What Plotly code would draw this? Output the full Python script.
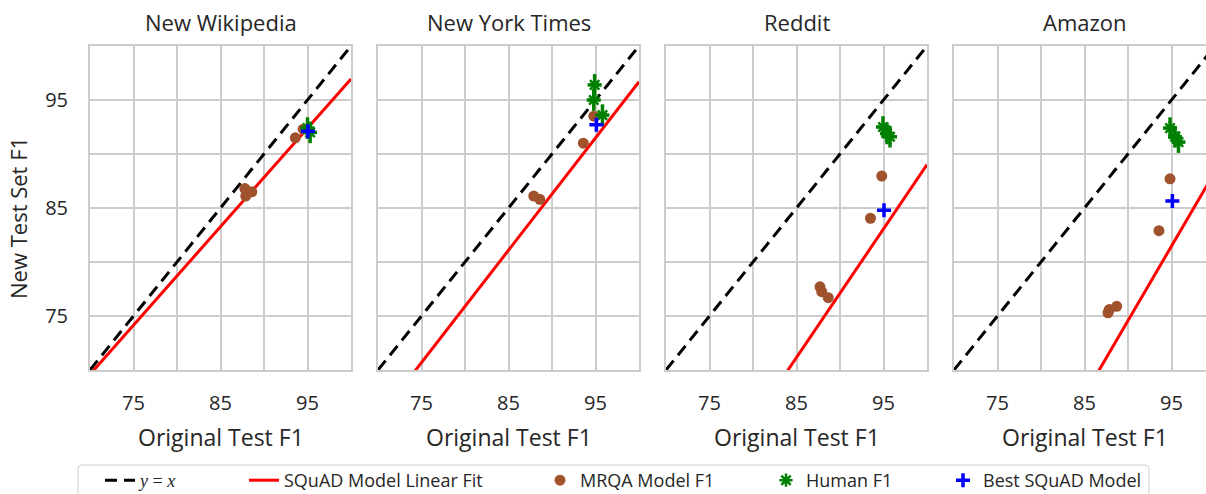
import plotly.graph_objects as go

# ---------------- data ----------------
datasets = ["New Wikipedia", "New York Times", "Reddit", "Amazon"]
tick_vals = [75, 85, 95]
tick_text = ["75", "85", "95"]

fit_slope = [0.912, 1.04, 1.19, 1.38]
fit_intercept = [5.75, -7.31, -29.99, -49.63]

mrqa_x = [
    [87.8, 87.9, 88.6, 93.6, 94.5],
    [87.9, 88.6, 93.6, 94.8],
    [87.7, 87.9, 88.65, 93.5, 94.8],
    [87.7, 87.85, 88.7, 93.56, 94.83],
]
mrqa_y = [
    [86.8, 86.1, 86.5, 91.5, 92.3],
    [86.1, 85.8, 91.0, 93.5],
    [77.7, 77.25, 76.7, 84.05, 87.96],
    [75.3, 75.6, 75.9, 82.9, 87.7],
]
mrqa_err_y = 0.45
mrqa_err_x = 0.25

human_x = [
    [95.0, 95.3],
    [94.9, 94.8, 95.8],
    [94.94, 95.4, 95.75],
    [94.83, 95.4, 95.8],
]
human_y = [
    [92.4, 92.0],
    [96.4, 95.0, 93.6],
    [92.5, 91.9, 91.6],
    [92.4, 91.6, 91.1],
]
human_err_y = 1.0
human_err_x = 0.8

best_x = [95.05, 95.1, 95.06, 95.1]
best_y = [92.1, 92.7, 84.8, 85.65]

line_x = [70, 100]

legend_names = ["<span style='font-family:Liberation Serif'><i>y</i> = <i>x</i></span>",
                "SQuAD Model Linear Fit", "MRQA Model F1", "Human F1", "Best SQuAD Model"]

# ---------------- layout geometry ----------------
W, H = 1206, 494
top, bottom = 46, 370
ph = bottom - top
left_px = [90, 378, 666, 954]
px_per_unit = 8.7
full_w = 30 * px_per_unit

FONT = "Open Sans"
GRID = "#cccccc"
TXT = "#262626"


def py(p):
    return (bottom - p) / ph


fig = go.Figure()

for i, name in enumerate(datasets):
    xa = "x" if i == 0 else f"x{i+1}"
    ya = "y" if i == 0 else f"y{i+1}"
    first = i == 0
    fig.add_trace(go.Scatter(x=line_x, y=line_x, mode="lines",
                             line=dict(color="black", width=3, dash="12px,7px"),
                             name=legend_names[0], legend="legend",
                             showlegend=first, xaxis=xa, yaxis=ya, hoverinfo="skip"))
    fy = [fit_slope[i] * v + fit_intercept[i] for v in line_x]
    fig.add_trace(go.Scatter(x=line_x, y=fy, mode="lines",
                             line=dict(color="red", width=3),
                             name=legend_names[1], legend="legend2",
                             showlegend=first, xaxis=xa, yaxis=ya))
    fig.add_trace(go.Scatter(x=mrqa_x[i], y=mrqa_y[i], mode="markers",
                             marker=dict(color="#a0522d", size=11, symbol="circle"),
                             error_y=dict(type="constant", value=mrqa_err_y, color="#a0522d", thickness=2, width=0),
                             error_x=dict(type="constant", value=mrqa_err_x, color="#a0522d", thickness=2, width=0),
                             name=legend_names[2], legend="legend3",
                             showlegend=first, xaxis=xa, yaxis=ya))
    fig.add_trace(go.Scatter(x=human_x[i], y=human_y[i], mode="markers",
                             marker=dict(color="green", size=11, symbol="asterisk-open",
                                         line=dict(color="green", width=2.5)),
                             error_y=dict(type="constant", value=human_err_y, color="green", thickness=3.5, width=0),
                             error_x=dict(type="constant", value=human_err_x, color="green", thickness=3.5, width=0),
                             name=legend_names[3], legend="legend4",
                             showlegend=first, xaxis=xa, yaxis=ya))
    fig.add_trace(go.Scatter(x=[best_x[i]], y=[best_y[i]], mode="markers",
                             marker=dict(color="blue", size=10, symbol="cross-thin-open",
                                         line=dict(color="blue", width=3.5)),
                             name=legend_names[4], legend="legend5",
                             showlegend=first, xaxis=xa, yaxis=ya))

layout = dict(
    width=W, height=H,
    margin=dict(l=0, r=0, t=top, b=H - bottom, autoexpand=False),
    plot_bgcolor="white", paper_bgcolor="white",
    font=dict(family=FONT, size=18, color=TXT),
    showlegend=True,
)

# separate legends, one per entry, positioned to match the reference row
legend_text_x = [140, 284, 580, 806, 983]
for k, tx in enumerate(legend_text_x):
    key = "legend" if k == 0 else f"legend{k+1}"
    layout[key] = dict(orientation="h", x=(tx - 40) / W, xanchor="left",
                       y=py(462), yanchor="top", bgcolor="rgba(0,0,0,0)",
                       borderwidth=0, font=dict(size=18, color=TXT), itemwidth=30)

annotations = []
for i, name in enumerate(datasets):
    sfx = "" if i == 0 else str(i + 1)
    x0 = left_px[i]
    x1 = min(x0 + full_w, W)
    xmax = 70 + (x1 - x0) / px_per_unit
    last = i == 3
    layout[f"xaxis{sfx}"] = dict(
        domain=[x0 / W, x1 / W], range=[70, xmax], anchor=f"y{sfx}",
        tickvals=tick_vals, ticktext=tick_text, showgrid=True, gridcolor=GRID, gridwidth=2,
        minor=dict(dtick=5, tick0=70, showgrid=True, gridcolor=GRID, gridwidth=2),
        showline=True, linecolor=GRID, linewidth=2, mirror=True,
        zeroline=False, ticks="", ticklabelstandoff=14,
        tickfont=dict(size=20))
    layout[f"yaxis{sfx}"] = dict(
        domain=[0, 1], range=[70, 100], anchor=f"x{sfx}",
        tickvals=tick_vals, ticktext=tick_text,
        showticklabels=(i == 0),
        showgrid=True, gridcolor=GRID, gridwidth=2,
        minor=dict(dtick=5, tick0=70, showgrid=True, gridcolor=GRID, gridwidth=2),
        showline=True, linecolor=GRID, linewidth=2, mirror=(not last),
        zeroline=False, ticks="", ticklabelstandoff=16,
        tickfont=dict(size=20))
    cx = (x0 + x0 + full_w) / 2 / W
    annotations.append(dict(text=name, x=cx, y=py(22), xref="paper", yref="paper",
                            showarrow=False, xanchor="center", yanchor="middle", font=dict(size=22)))
    annotations.append(dict(text="Original Test F1", x=cx, y=py(437), xref="paper", yref="paper",
                            showarrow=False, xanchor="center", yanchor="middle", font=dict(size=23)))
annotations.append(dict(text="New Test Set F1", x=18 / W, y=py(218), xref="paper", yref="paper",
                        showarrow=False, textangle=-90, xanchor="center", yanchor="middle", font=dict(size=22)))
layout["annotations"] = annotations

# legend frame (rounded rectangle)
lx0, lx1, ly0, ly1, r = 78, 1149, 465, 500, 4
X = lambda p: p / W
path = (f"M {X(lx0 + r)},{py(ly0)} L {X(lx1 - r)},{py(ly0)} "
        f"Q {X(lx1)},{py(ly0)} {X(lx1)},{py(ly0 + r)} L {X(lx1)},{py(ly1)} "
        f"L {X(lx0)},{py(ly1)} L {X(lx0)},{py(ly0 + r)} Q {X(lx0)},{py(ly0)} {X(lx0 + r)},{py(ly0)} Z")
layout["shapes"] = [dict(type="path", path=path, xref="paper", yref="paper",
                         line=dict(color="#d0d0d0", width=1), fillcolor="rgba(0,0,0,0)", layer="below")]

fig.update_layout(**layout)

fig.write_html("out.html", post_script="document.body.style.margin='0';",
               config={"displayModeBar": False})
